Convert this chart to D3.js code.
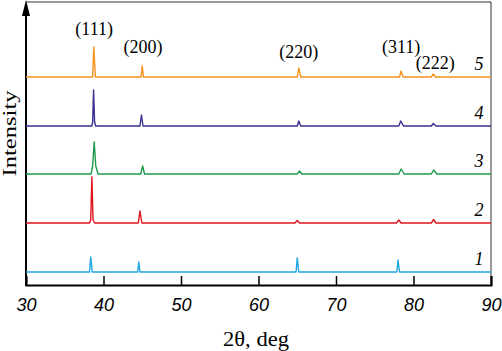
<!DOCTYPE html>
<html>
<head>
<meta charset="utf-8">
<script src="https://cdn.jsdelivr.net/npm/d3@7"></script>
<style>
  body { margin: 0; background: #fff; }
  svg { display: block; }
</style>
</head>
<body>
<div id="chart"></div>
<script>
// XRD patterns, 2theta vs intensity (arbitrary units, stacked)
var sampleNames = ['1', '2', '3', '4', '5'];
var sampleColors = ['#1ea6e0', '#e0161f', '#1d9a4a', '#3a3190', '#f5931f'];
var sampleOffsets = [13, 62, 111, 159, 208];

var pattern1 = [[30,0],[38.2,0],[38.35,15],[38.55,0],[44.4,0],[44.55,10],[44.7,0],[64.85,0],[65.0,14],[65.2,0],[77.85,0],[78.0,12],[78.2,0],[90,0]];
var pattern2 = [[30,0],[38.2,0],[38.35,3],[38.5,46],[38.65,3],[38.85,0],[44.5,0],[44.7,12],[44.95,0],[64.7,0],[65.0,2.5],[65.3,0],[77.8,0],[78.1,3],[78.4,0],[82.3,0],[82.6,3.5],[82.9,0],[90,0]];
var pattern3 = [[30,0],[38.4,0],[38.6,8],[38.8,32],[39.0,8],[39.3,0],[44.8,0],[45.05,8],[45.3,0],[65.0,0],[65.3,3],[65.6,0],[78.1,0],[78.4,5],[78.8,0],[82.3,0],[82.6,4],[83.0,0],[90,0]];
var pattern4 = [[30,0],[38.5,0],[38.6,4],[38.72,36],[38.85,4],[39.0,0],[44.7,0],[44.9,11],[45.1,0],[65.0,0],[65.2,5],[65.45,0],[78.1,0],[78.35,5],[78.7,0],[82.3,0],[82.55,2.5],[82.9,0],[90,0]];
var pattern5 = [[30,0],[38.6,0],[38.75,30],[38.95,0],[44.85,0],[45.0,11],[45.15,0],[65.0,0],[65.2,9],[65.45,0],[78.2,0],[78.4,6],[78.65,0],[82.3,0],[82.55,3],[82.85,0],[90,0]];
var patterns = [pattern1, pattern2, pattern3, pattern4, pattern5];

var hklLabels = ['(111)', '(200)', '(220)', '(311)', '(222)'];
var hklAngles = [38.8, 45.1, 65.2, 78.4, 82.8];
var xTicks = [30, 40, 50, 60, 70, 80, 90];

var svgwidth = 502;
var svgheight = 351;
var plotLeft = 26, plotRight = 491, plotTop = 2, plotBottom = 285;

var svg = d3.select('#chart')
            .append('svg')
            .attr('width', svgwidth)
            .attr('height', svgheight);

var xscale = d3.scaleLinear().domain([30, 90]).range([plotLeft, plotRight]);
var yscale = d3.scaleLinear().domain([0, plotBottom - plotTop]).range([plotBottom, plotTop]);

// frame (top / right thin)
svg.append('path')
    .attr('d', 'M' + plotLeft + ',' + plotTop + 'H' + plotRight + 'V' + plotBottom)
    .attr('fill', 'none')
    .attr('stroke', '#333')
    .attr('stroke-width', 1);

// x axis, ticks pointing inward
var xaxis = d3.axisBottom(xscale)
            .tickValues(xTicks)
            .tickSize(-9)
            .tickFormat(d3.format('d'));
var gx = svg.append('g')
    .attr('transform', 'translate(0,' + plotBottom + ')')
    .call(xaxis);
gx.select('.domain').attr('stroke', '#000').attr('stroke-width', 2);
gx.selectAll('.tick line').attr('stroke', '#000').attr('stroke-width', 1.5);
gx.selectAll('.tick text')
    .attr('y', 26)
    .attr('dy', 0)
    .style('font-family', '"Liberation Sans", Arial, sans-serif')
    .style('font-style', 'italic')
    .style('font-size', '18px')
    .attr('fill', '#000');

// y axis line with arrow
svg.append('line')
    .attr('x1', plotLeft).attr('x2', plotLeft)
    .attr('y1', plotBottom + 1).attr('y2', 12)
    .attr('stroke', '#000')
    .attr('stroke-width', 2);
svg.append('path')
    .attr('d', 'M' + (plotLeft - 4) + ',16L' + plotLeft + ',0L' + (plotLeft + 4) + ',16Z')
    .attr('fill', '#000');

// patterns
var line = d3.line()
    .x(d => xscale(d[0]))
    .y(d => yscale(d[1]));

patterns.forEach(function(p, i) {
    svg.append('path')
        .datum(p.map(d => [d[0], d[1] + sampleOffsets[i]]))
        .attr('d', line)
        .attr('fill', 'none')
        .attr('stroke', sampleColors[i])
        .attr('stroke-width', 1.4)
        .attr('stroke-linejoin', 'round');

    svg.append('text')
        .attr('x', 479)
        .attr('y', yscale(sampleOffsets[i]) - 7)
        .style('text-anchor', 'middle')
        .style('font-family', '"Liberation Serif", "Times New Roman", serif')
        .style('font-style', 'italic')
        .style('font-size', '18px')
        .text(sampleNames[i]);
});

// hkl labels
var hklY = [35, 53, 58, 53, 69];
hklLabels.forEach(function(t, i) {
    svg.append('text')
        .attr('x', xscale(hklAngles[i]))
        .attr('y', hklY[i])
        .style('text-anchor', 'middle')
        .style('font-family', '"Liberation Serif", "Times New Roman", serif')
        .style('font-size', '18px')
        .text(t);
});

// axis titles
svg.append('text')
    .attr('x', 256)
    .attr('y', 346)
    .style('text-anchor', 'middle')
    .style('font-family', '"Liberation Serif", "Times New Roman", serif')
    .style('font-size', '20px')
    .attr('textLength', 66)
    .attr('lengthAdjust', 'spacingAndGlyphs')
    .text('2θ, deg');

svg.append('text')
    .attr('transform', 'translate(16,133.5) rotate(-90)')
    .style('text-anchor', 'middle')
    .style('font-family', '"Liberation Serif", "Times New Roman", serif')
    .style('font-size', '19px')
    .attr('textLength', 86)
    .attr('lengthAdjust', 'spacingAndGlyphs')
    .text('Intensity');
</script>
</body>
</html>
